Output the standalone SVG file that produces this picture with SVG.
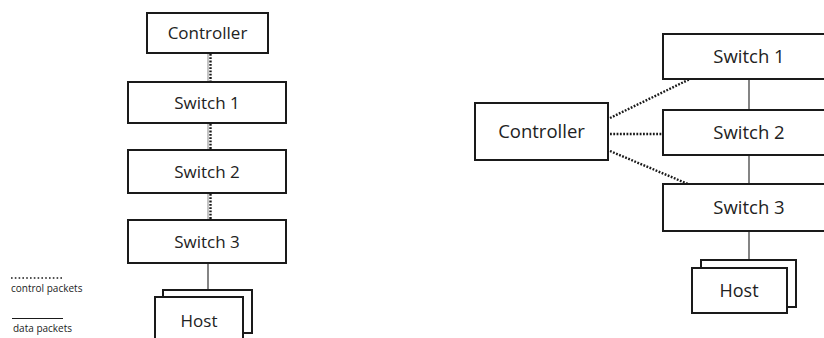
<svg xmlns="http://www.w3.org/2000/svg" width="824" height="338" viewBox="0 0 824 338">
  <style>
    .box { fill: #ffffff; stroke: #1a1a1a; stroke-width: 2; }
    .lbl { font-family: "Open Sans", "Liberation Sans", sans-serif; fill: #222222; text-anchor: middle; }
    .sm { font-size: 17px; }
    .lg { font-size: 18.5px; }
    .leg { font-family: "Open Sans", "Liberation Sans", sans-serif; font-size: 10px; fill: #222222; }
    .data { stroke: #333333; stroke-width: 1.2; fill: none; }
    .ctrl { stroke: #1a1a1a; stroke-width: 2.4; stroke-dasharray: 1.8 1.5; fill: none; }
    .guide { stroke: #8a8a8a; stroke-width: 1; fill: none; }
  </style>
  <rect width="824" height="338" fill="#ffffff"/>

  <!-- in-band control chain: connectors -->
  <g id="left-connectors">
    <line class="guide" x1="208" y1="53" x2="208" y2="82"/>
    <line class="ctrl" x1="210.5" y1="54" x2="210.5" y2="81"/>
    <line class="guide" x1="208" y1="123" x2="208" y2="150"/>
    <line class="ctrl" x1="210.5" y1="124" x2="210.5" y2="149"/>
    <line class="guide" x1="208" y1="193" x2="208" y2="220"/>
    <line class="ctrl" x1="210.5" y1="194" x2="210.5" y2="219"/>
    <line class="data" x1="208" y1="263" x2="208" y2="290"/>
  </g>

  <!-- in-band control chain: nodes -->
  <g id="l-controller">
    <rect class="box" x="147" y="13" width="121" height="40"/>
    <text class="lbl sm" x="207.5" y="38.5">Controller</text>
  </g>
  <g id="l-switch1">
    <rect class="box" x="128" y="82" width="158" height="41"/>
    <text class="lbl sm" x="207" y="108.5">Switch 1</text>
  </g>
  <g id="l-switch2">
    <rect class="box" x="128" y="150" width="158" height="43"/>
    <text class="lbl sm" x="207" y="177.5">Switch 2</text>
  </g>
  <g id="l-switch3">
    <rect class="box" x="128" y="220" width="158" height="43"/>
    <text class="lbl sm" x="207" y="247.5">Switch 3</text>
  </g>
  <g id="l-host">
    <rect class="box" x="163" y="290" width="89" height="43" stroke-width="2.5"/>
    <rect class="box" x="155" y="297" width="88" height="46"/>
    <text class="lbl sm" x="199" y="326.5">Host</text>
  </g>

  <!-- legend -->
  <g id="legend">
    <line x1="11" y1="278" x2="63" y2="278" stroke="#1a1a1a" stroke-width="1.6" stroke-dasharray="1.6 2.2"/>
    <text class="leg" x="11" y="292">control packets</text>
    <line x1="12" y1="318.5" x2="63" y2="318.5" stroke="#1a1a1a" stroke-width="1"/>
    <text class="leg" x="13" y="332">data packets</text>
  </g>

  <!-- out-of-band control: connectors -->
  <g id="right-connectors">
    <line class="ctrl" x1="610" y1="118" x2="690" y2="79"/>
    <line class="ctrl" x1="610" y1="134" x2="663" y2="134"/>
    <line class="ctrl" x1="610" y1="151" x2="688" y2="184"/>
    <line class="data" x1="749" y1="79" x2="749" y2="110"/>
    <line class="data" x1="749" y1="155" x2="749" y2="184"/>
    <line class="data" x1="749" y1="231" x2="749" y2="260"/>
  </g>

  <!-- out-of-band control: nodes -->
  <g id="r-controller">
    <rect class="box" x="475" y="103" width="133" height="57"/>
    <text class="lbl lg" x="541.5" y="138">Controller</text>
  </g>
  <g id="r-switch1">
    <rect class="box" x="663" y="34" width="172" height="45"/>
    <text class="lbl lg" x="749" y="62.5">Switch 1</text>
  </g>
  <g id="r-switch2">
    <rect class="box" x="663" y="110" width="172" height="45"/>
    <text class="lbl lg" x="749" y="138.5">Switch 2</text>
  </g>
  <g id="r-switch3">
    <rect class="box" x="663" y="184" width="172" height="47"/>
    <text class="lbl lg" x="749" y="213.5">Switch 3</text>
  </g>
  <g id="r-host">
    <rect class="box" x="701" y="260" width="95" height="47" stroke-width="2.5"/>
    <rect class="box" x="692" y="268" width="95" height="45"/>
    <text class="lbl" font-size="18" x="739" y="297">Host</text>
  </g>
</svg>
